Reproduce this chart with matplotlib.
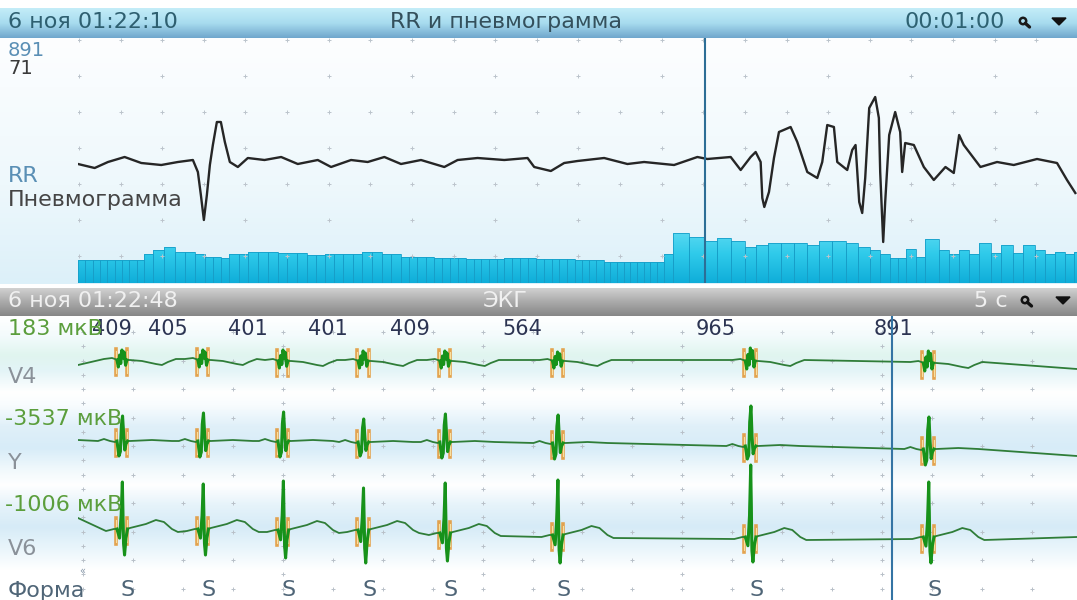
import numpy as np
import matplotlib.pyplot as plt
from matplotlib.path import Path
from matplotlib.patches import Circle, Polygon
from matplotlib.colors import to_rgb

W, H = 1077, 600
plt.rcParams['font.family'] = ['DejaVu Sans']

# ---------- top window "RR и пневмограмма", 60 s ----------
pneumo_t = [0.0, 1.0, 1.8, 2.8, 3.8, 5.0, 6.0, 6.9, 7.2, 7.38, 7.56, 7.74, 7.92, 8.1, 8.34, 8.58,
            8.82, 9.12, 9.6, 10.2, 11.2, 12.2, 13.2, 14.4, 15.2, 16.4, 17.4, 18.4, 19.4, 20.6,
            22.0, 22.8, 24.0, 25.6, 27.0, 27.4, 28.4, 29.2, 30.0, 31.6, 33.0, 34.0, 35.8, 37.2,
            37.8, 39.2, 39.8, 40.4, 40.7, 41.0, 41.1, 41.22, 41.5, 41.8, 42.1, 42.8, 43.2, 43.8,
            44.4, 44.7, 45.0, 45.4, 45.6, 46.2, 46.5, 46.7, 46.92, 47.1, 47.28, 47.52, 47.88,
            48.1, 48.18, 48.36, 48.48, 48.72, 49.08, 49.38, 49.5, 49.68, 50.2, 50.8, 51.4,
            52.1, 52.6, 52.92, 53.2, 54.2, 55.2, 56.2, 57.6, 58.8, 59.4, 59.9]
pneumo_v = [-4, -8, -2, 3, -3, -5, -2, 0, -12, -35, -60, -35, -5, 15, 38, 38,
            18, -2, -7, 2, 0, 3, -4, 0, -7, 0, -2, 3, -4, 0,
            -7, 0, 2, 0, 2, -7, -11, -3, -1, 2, -4, -2, -5, 3,
            1, 3, -10, 3, 8, -2, -38, -47, -32, 2, 28, 33, 18, -12,
            -18, -2, 35, 33, -2, -10, 10, 15, -42, -53, -18, 52, 63,
            42, -12, -82, -42, 25, 48, 28, -12, 17, 15, -7, -20,
            -7, -13, 25, 15, -7, -2, -5, 1, -3, -20, -33]

# RR intervals over the minute (ms); each bar is as wide as its interval
rr_ms = ([440] * 9 + [560, 630, 690, 600, 600, 560, 500, 500, 480, 560, 560]
         + [600] * 3 + [580] * 3 + [540] * 2 + [560] * 4 + [600] * 2 + [560] * 2
         + [500] * 4 + [480] * 4 + [460] * 5 + [480] * 4 + [460] * 5 + [440] * 4
         + [400] * 9 + [560, 960, 880, 800, 860, 800, 690, 730, 770, 770, 770, 730,
                        800, 800, 770, 690, 630, 560, 480, 480, 650, 500, 845, 630,
                        560, 630, 560, 770, 580, 730, 580, 730, 630, 560, 600, 560, 600])
cursor_top = 37.68
top_values = ['891', '71']

# ---------- ECG window, 5 s ----------
ecg_first_beat = 0.22
ecg_rr = [409, 405, 401, 401, 409, 564, 965, 891]
beat_form = ['S'] * 8
cursor_ecg = 4.075
leads = ['V4', 'Y', 'V6']
lead_scale = ['183 мкВ', '-3537 мкВ', '-1006 мкВ']
r_amp = {'V4': [10, 10, 11, 10, 10, 9, 13, 12],
         'Y': [25, 28, 29, 23, 28, 28, 40, 32],
         'V6': [47, 45, 49, 42, 50, 55, 72, 55]}
s_amp = {'V4': [7, 7, 7, 7, 7, 7, 8, 8],
         'Y': [15, 16, 16, 14, 16, 16, 13, 16],
         'V6': [26, 26, 28, 33, 28, 28, 25, 26]}
base = {'V4': [1, 1, 0, 0, 0, 0, 0, -2],
        'Y': [0, 0, 0, -1, -1, -2, -5, -8],
        'V6': [-2, -2, -3, -3, -6, -8, -10, -10]}
trace_start = {'V4': -4, 'Y': 1, 'V6': 9}
trace_end = {'V4': -8, 'Y': -15, 'V6': -10}
wave_pre = {'V4': [(-0.09, 1), (-0.05, 2), (-0.035, 1)],
            'Y': [(-0.12, 0), (-0.09, 2), (-0.06, 0), (-0.035, -1)],
            'V6': [(-0.08, -2), (-0.04, 0)]}
# QRS shape: positive part scaled by R, negative part by S depth
qrs = {'V4': [(-0.025, 0.0), (-0.018, -1.0), (-0.012, 0.5), (-0.006, -0.5), (0.0, 1.0),
              (0.006, 0.2), (0.011, 0.8), (0.018, -0.75), (0.025, 0.0)],
       'Y': [(-0.025, 0), (-0.015, -1.0), (-0.008, -0.7), (-0.003, 0.6), (0.003, 1.0),
             (0.009, 0.2), (0.014, -0.6), (0.02, -0.2), (0.028, 0)],
       'V6': [(-0.025, 0), (-0.012, -0.35), (-0.004, 0.3), (0.002, 1.0), (0.008, -0.55),
              (0.013, -1.0), (0.02, -0.35), (0.028, 0)]}
wave_post = {'V4': [(0.04, 0), (0.10, -1), (0.17, -4), (0.20, -5), (0.23, -2), (0.27, 1)],
             'Y': [(0.04, 0), (0.15, 1), (0.25, 0)],
             'V6': [(0.04, 1), (0.08, 3), (0.12, 5), (0.17, 9), (0.21, 7), (0.25, 0), (0.28, -3)]}
lead_pos = {'V4': -45, 'Y': -125, 'V6': -211}


def grad_img(stops, n=300):
    pos = [s[0] for s in stops]
    cols = np.array([to_rgb(s[1]) for s in stops])
    y = np.linspace(0, 1, n)
    img = np.stack([np.interp(y, pos, cols[:, i]) for i in range(3)], axis=-1)
    return img[:, None, :]


def px_axes(x0, y0, x1, y1):
    return fig.add_axes([x0 / W, 1 - y1 / H, (x1 - x0) / W, (y1 - y0) / H])


def label(x, y, s, color, size=16, ha='left'):
    fig.text(x / W, 1 - y / H, s, color=color, fontsize=size, ha=ha, va='center')


fig = plt.figure(figsize=(W / 100, H / 100), dpi=100)
fig.patch.set_facecolor('white')

# ---- backgrounds, headers, icons (pixel coordinates)
bg = fig.add_axes([0, 0, 1, 1])
bg.set_axis_off()
bg.imshow(grad_img([(0, '#c4edf8'), (0.5, '#a8dcef'), (1, '#6fa6cc')]),
          extent=(0, W, 38, 8), aspect='auto')
bg.imshow(grad_img([(0, '#fdfeff'), (0.6, '#eef8fc'), (1, '#dcf0f9')]),
          extent=(0, W, 284, 38), aspect='auto')
bg.imshow(grad_img([(0, '#d2d2d2'), (0.45, '#adadad'), (1, '#868686')]),
          extent=(0, W, 316, 288), aspect='auto')
band = [(316, '#ffffff'), (336, '#f3fbfc'), (355, '#e0f5ef'), (370, '#e3f4f7'),
        (392, '#ffffff'), (405, '#f8fcfe'), (426, '#e0f0f9'), (448, '#d7ecf8'),
        (468, '#eff8fc'), (485, '#ffffff'), (505, '#e6f3fa'), (527, '#d6ebf7'),
        (548, '#e9f5fb'), (570, '#ffffff'), (600, '#ffffff')]
bg.imshow(grad_img([((p - 316) / 284, c) for p, c in band]),
          extent=(0, W, 600, 316), aspect='auto')
for (cx, cy, col) in [(1023, 21, '#1a1a1a'), (1025, 300, '#111111')]:
    bg.add_patch(Circle((cx, cy), 3.2, fill=False, ec=col, lw=1.8))
    bg.plot([cx + 2.3, cx + 6.5], [cy + 2.3, cy + 6], color=col, lw=2.4, solid_capstyle='round')
bg.add_patch(Polygon([(1052, 18), (1066, 18), (1059, 25)], closed=True, color='#111111'))
bg.add_patch(Polygon([(1056, 297), (1070, 297), (1063, 304)], closed=True, color='#111111'))
bg.set_xlim(0, W)
bg.set_ylim(H, 0)

# ---- top panel
ax_rr = px_axes(78, 38, 1077, 283)
ax_rr.set_axis_off()
starts = np.concatenate([[0], np.cumsum(rr_ms)[:-1]]) / 1000.0
bars = ax_rr.bar(starts, rr_ms, width=np.array(rr_ms) / 1000.0, align='edge',
                 facecolor='none', edgecolor='#179ec8', linewidth=0.6, zorder=3)
im = ax_rr.imshow(grad_img([(0, '#66def4'), (0.5, '#2fcaea'), (1, '#0fadd9')]),
                  extent=(0, 60, 0, 1100), aspect='auto', zorder=2)
rects = [b.get_path().transformed(b.get_patch_transform()) for b in bars]
im.set_clip_path(Path.make_compound_path(*rects), ax_rr.transData)
ax_rr.set_xlim(0, 60)
ax_rr.set_ylim(0, 4700)

ax_top = ax_rr.twinx()
ax_top.set_axis_off()
ax_top.set_xlim(0, 60)
ax_top.set_ylim(-123, 122)
rows = 120 - 36 * np.arange(7)
for k, tc in enumerate(np.arange(0, 60, 2.5)):
    rr_ = rows if k % 2 == 0 else rows[::2]
    ax_top.plot([tc + 0.06] * len(rr_), rr_, ls='none', marker='+', ms=3.2,
                mew=0.7, color='#bcc4cc', zorder=1)
ax_top.plot(pneumo_t, pneumo_v, color='#262626', lw=1.7, zorder=4)
ax_top.axvline(cursor_top, color='#2d6e96', lw=1.5, zorder=5)

# ---- ECG panel
ax_ecg = px_axes(78, 316, 1077, 600)
ax_ecg.set_axis_off()
ax_ecg.set_xlim(0, 5)
ax_ecg.set_ylim(-284, 0)
erow = -(16 + 28.5 * np.arange(10))
for k, tc in enumerate(np.arange(0.025, 5, 0.25)):
    if k % 4 == 0:
        rr_ = np.sort(np.concatenate([erow, erow - 14.25]))
    else:
        rr_ = erow
    ax_ecg.plot([tc] * len(rr_), rr_, ls='none', marker='+', ms=3.2, mew=0.7,
                color='#b8c0c8', zorder=1)

beat_t = ecg_first_beat + np.concatenate([[0], np.cumsum(ecg_rr[1:])]) / 1000.0
for lead in leads:
    off = lead_pos[lead]
    xs, ys = [0.0], [off + trace_start[lead]]
    for i, tb in enumerate(beat_t):
        b0 = off + base[lead][i]
        qx = [tb + d for d, _ in qrs[lead]]
        qy = [b0 + f * (r_amp[lead][i] if f > 0 else s_amp[lead][i]) for _, f in qrs[lead]]
        xs += [tb + d for d, _ in wave_pre[lead]] + qx + [tb + d for d, _ in wave_post[lead]]
        ys += [b0 + a for _, a in wave_pre[lead]] + qy + [b0 + a for _, a in wave_post[lead]]
        for d in (-0.03, 0.027):
            ax_ecg.plot([tb + d, tb + d], [b0 + 11, b0 - 15], color='#e39a3c',
                        lw=2.6, alpha=0.9, zorder=3)
            ax_ecg.plot([tb + d, tb + d], [b0 + 9, b0 - 13], color='#f7e0a0',
                        lw=0.8, zorder=3)
        ax_ecg.plot(qx, qy, color='#17921a', lw=2.2, zorder=5)
    xs.append(5.0)
    ys.append(off + trace_end[lead])
    ax_ecg.plot(xs, ys, color='#2f7d38', lw=1.3, zorder=4)

for i, tb in enumerate(beat_t):
    ax_ecg.text(max(tb - 0.175, 0.17), -13, str(ecg_rr[i]), color='#2c3452',
                fontsize=15, ha='center', va='center', zorder=6)
    ax_ecg.text(tb + 0.03, -274, beat_form[i], color='#4f6577', fontsize=16,
                ha='center', va='center', zorder=6)
ax_ecg.axvline(cursor_ecg, color='#3474a4', lw=1.5, zorder=7)

# ---- texts
label(8, 22, '6 ноя 01:22:10', '#2e5f70')
label(506, 22, 'RR и пневмограмма', '#34505c', ha='center')
label(1005, 22, '00:01:00', '#2e6272', ha='right')
label(8, 50, top_values[0], '#5a8fb5', size=14)
label(8, 68, top_values[1], '#3a3a3a', size=14)
label(8, 176, 'RR', '#5a8fb5')
label(8, 200, 'Пневмограмма', '#454545')
label(8, 301, '6 ноя 01:22:48', '#f0f0f0')
label(505, 301, 'ЭКГ', '#f0f0f0', ha='center')
label(1008, 301, '5 с', '#f0f0f0', ha='right')
label_y = {'V4': (329, 377), 'Y': (419, 463), 'V6': (505, 549)}
for lead, sc in zip(leads, lead_scale):
    label(5 if sc.startswith('-') else 8, label_y[lead][0], sc, '#5b9e3c')
    label(8, label_y[lead][1], lead, '#8a9199')
label(8, 591, 'Форма', '#4f6577')
label(79, 571, '«', '#8899aa', size=7)

fig.savefig('out.png', dpi=100)
